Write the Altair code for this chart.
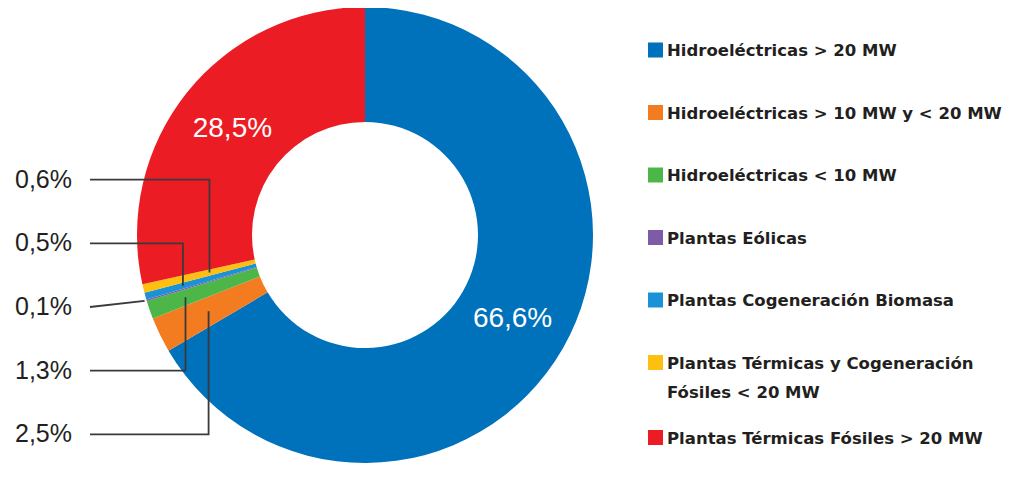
import math
import altair as alt
import pandas as pd

# ---------------- data ----------------
categories = [
    "Hidroeléctricas > 20 MW",
    "Hidroeléctricas > 10 MW y < 20 MW",
    "Hidroeléctricas < 10 MW",
    "Plantas Eólicas",
    "Plantas Cogeneración Biomasa",
    "Plantas Térmicas y Cogeneración Fósiles < 20 MW",
    "Plantas Térmicas Fósiles > 20 MW",
]
values = [66.6, 2.5, 1.3, 0.1, 0.5, 0.6, 28.5]
colors = ["#0071BB", "#F37B20", "#4CB748", "#7D5BA6", "#1A92D8", "#FDC010", "#EC1C24"]
legend_labels = [
    "Hidroeléctricas > 20 MW",
    "Hidroeléctricas > 10 MW y < 20 MW",
    "Hidroeléctricas < 10 MW",
    "Plantas Eólicas",
    "Plantas Cogeneración Biomasa",
    "Plantas Térmicas y Cogeneración\nFósiles < 20 MW",
    "Plantas Térmicas Fósiles > 20 MW",
]

# ---------------- layout / style ----------------
W, H = 995, 464
CX, CY = 357, 227
R_OUT, R_IN, R_TEXT = 228, 113, 170
TXT = "#231F20"
LINE = "#3A3A3A"
LBL_X, LEAD_X0 = 7, 82
LBL_Y0, LBL_DY = 171.6, 63.7
LEG_Y0, LEG_DY, LEG_EXTRA = 42, 62.5, 0.2
LEG_SQ_X, LEG_TXT_X = 647.5, 659
# radius where each leader line meets its slice (None = straight to the rim)
leader_r = {5: 160, 4: 189, 3: None, 2: 190, 1: 174}


def fmt(v):
    return f"{v:.1f}".replace(".", ",") + "%"


n = len(values)
total = sum(values)
cum = [sum(values[:i]) for i in range(n)]

slices = pd.DataFrame({
    "idx": list(range(n)),
    "cat": categories,
    "value": values,
    "inner": [fmt(v) if v >= 10 else "" for v in values],
})

# leader lines + outside labels for the small slices (listed top to bottom)
small = [i for i in range(n) if values[i] < 10][::-1]
lead_rows, lbl_rows = [], []
for k, i in enumerate(small):
    ly = LBL_Y0 + LBL_DY * k
    a = 2 * math.pi * (cum[i] + values[i] / 2) / total
    r = leader_r[i] if leader_r[i] is not None else R_OUT + 2
    ex = CX + r * math.sin(a)
    ey = CY - r * math.cos(a)
    pts = [(LEAD_X0, ly), (ex, ly), (ex, ey)] if leader_r[i] is not None else [(LEAD_X0, ly), (ex, ey)]
    for s, (px, py) in enumerate(pts):
        lead_rows.append({"cat": categories[i], "seq": s, "px": px, "py": py})
    lbl_rows.append({"cat": categories[i], "label": fmt(values[i]), "px": LBL_X, "py": ly})
leads = pd.DataFrame(lead_rows)
lbls = pd.DataFrame(lbl_rows)

# legend rows
leg_rows = []
slot = 0.0
for i in range(n):
    leg_rows.append({"cat": categories[i], "label": legend_labels[i],
                     "py": LEG_Y0 + LEG_DY * slot, "sx": LEG_SQ_X, "tx": LEG_TXT_X})
    slot += 1 + LEG_EXTRA * legend_labels[i].count("\n")
leg = pd.DataFrame(leg_rows)

xs = alt.Scale(domain=[0, W], range=[0, W], zero=False, nice=False)
ys = alt.Scale(domain=[0, H], range=[0, H], zero=False, nice=False)
cs = alt.Scale(domain=categories, range=colors)

arcs = alt.Chart(slices).mark_arc(outerRadius=R_OUT, innerRadius=R_IN).encode(
    theta=alt.Theta("value:Q", stack=True),
    order=alt.Order("idx:Q"),
    color=alt.Color("cat:N", scale=cs, legend=None),
    x=alt.value(CX), y=alt.value(CY),
)

inner_txt = alt.Chart(slices).mark_text(
    radius=R_TEXT, font="Liberation Sans", fontSize=28, color="white"
).encode(
    theta=alt.Theta("value:Q", stack=True),
    order=alt.Order("idx:Q"),
    text="inner:N",
    x=alt.value(CX), y=alt.value(CY),
)

leaders = alt.Chart(leads).mark_line(color=LINE, strokeWidth=1.8).encode(
    x=alt.X("px:Q", scale=xs, axis=None),
    y=alt.Y("py:Q", scale=ys, axis=None),
    detail="cat:N",
    order="seq:Q",
)

left_lbl = alt.Chart(lbls).mark_text(
    align="left", baseline="middle", font="Liberation Sans", fontSize=25, color=TXT
).encode(
    x=alt.X("px:Q", scale=xs, axis=None),
    y=alt.Y("py:Q", scale=ys, axis=None),
    text="label:N",
)

leg_sq = alt.Chart(leg).mark_square(size=225, opacity=1).encode(
    x=alt.X("sx:Q", scale=xs, axis=None),
    y=alt.Y("py:Q", scale=ys, axis=None),
    color=alt.Color("cat:N", scale=cs, legend=None),
)

leg_txt = alt.Chart(leg).mark_text(
    align="left", baseline="alphabetic", dy=6, font="DejaVu Sans", fontSize=16.5,
    fontWeight="bold", color=TXT, lineBreak="\n", lineHeight=29
).encode(
    x=alt.X("tx:Q", scale=xs, axis=None),
    y=alt.Y("py:Q", scale=ys, axis=None),
    text="label:N",
)

chart = alt.layer(arcs, inner_txt, leaders, left_lbl, leg_sq, leg_txt).properties(
    width=W, height=H, padding=0, autosize=alt.AutoSizeParams(type="none"),
    background="white",
).configure_view(strokeWidth=0)

chart.save("out.html", embed_options={"renderer": "svg", "actions": False})
